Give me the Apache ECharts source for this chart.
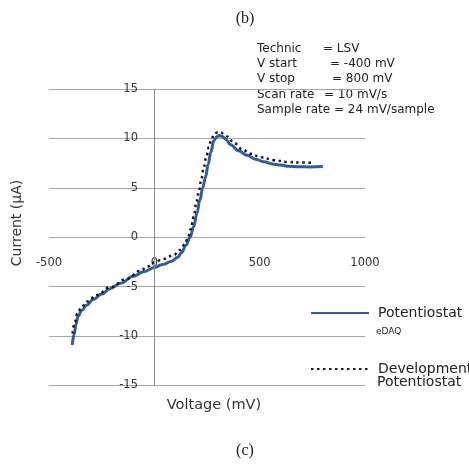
<!DOCTYPE html>
<html>
<head>
<meta charset="utf-8">
<script src="https://cdn.jsdelivr.net/npm/echarts@6/dist/echarts.min.js"></script>
<style>html,body{margin:0;padding:0;background:#fff}#c{width:469px;height:464px}</style>
</head>
<body>
<div id="c"></div>
<script>
// Potentiostat eDAQ (solid blue)
const edaqV = [-390,-380,-372,-362,-345,-320,-290,-250,-210,-160,-100,-50,0,40,80,110,130,150,170,187,202,216,230,243,256,268,283,296,308,322,340,362,400,441,480,521,560,600,640,680,740,800];
const edaqI = [-10.9,-9.8,-8.8,-8.0,-7.4,-6.85,-6.3,-5.75,-5.2,-4.65,-3.95,-3.5,-3.05,-2.75,-2.45,-2.05,-1.55,-0.8,0,1.1,2.4,3.75,5.0,6.1,7.4,8.6,9.8,10.15,10.3,10.2,9.9,9.35,8.75,8.3,7.9,7.63,7.42,7.3,7.18,7.13,7.12,7.15];
// Development Potentiostat (dotted black)
const devV = [-388,-378,-365,-345,-320,-273,-210,-130,-68,-30,0,40,91,122,145,160,172,187,200,211,223,235,247,259,271,283,298,314,330,345,378,417,457,505,568,632,695,755];
const devI = [-9.75,-8.6,-7.7,-7.05,-6.5,-5.85,-5.05,-4.2,-3.4,-2.95,-2.55,-2.2,-1.82,-1.3,-0.7,0.0,0.8,2.07,3.6,4.6,5.9,7.1,8.2,9.15,9.9,10.4,10.6,10.62,10.45,10.2,9.55,8.9,8.45,8.1,7.8,7.62,7.56,7.53];
const xTicks = [-500, 0, 500, 1000];
const yTicks = [-15, -10, -5, 0, 5, 10, 15];
const infoLabels = ['Technic', 'V start', 'V stop', 'Scan rate'];
const infoValues = ['= LSV', '= -400 mV', '= 800 mV', '= 10 mV/s'];
const infoLast = 'Sample rate = 24 mV/sample';

const FONT = 'DejaVu Sans';
const chart = echarts.init(document.getElementById('c'), null, {renderer: 'canvas'});
const zip = (a, b) => a.map((v, i) => [v, b[i]]);

const valX = [323, 330, 332, 324];
const rowY = [50, 65, 80, 96];
const graphics = [];
infoLabels.forEach((t, i) => {
  graphics.push({type: 'text', left: 257, top: rowY[i] - 7, style: {text: t, font: '12px "DejaVu Sans"', fill: '#222'}});
  graphics.push({type: 'text', left: valX[i], top: rowY[i] - 7, style: {text: infoValues[i], font: '12px "DejaVu Sans"', fill: '#222'}});
});
graphics.push({type: 'text', left: 257, top: 111 - 7, style: {text: infoLast, font: '12px "DejaVu Sans"', fill: '#222'}});
graphics.push({type: 'text', left: 376, top: 327, style: {text: 'eDAQ', font: '9px "DejaVu Sans"', fill: '#222'}});
graphics.push({type: 'text', left: 377, top: 375, style: {text: 'Potentiostat', font: '14px "DejaVu Sans"', fill: '#222'}});
graphics.push({type: 'text', x: 17, y: 223, rotation: Math.PI / 2, style: {text: 'Current (\u00b5A)', font: '14px "DejaVu Sans"', fill: '#333', align: 'center', verticalAlign: 'middle'}});
graphics.push({type: 'text', x: 214, y: 405, style: {text: 'Voltage (mV)', font: '14.5px "DejaVu Sans"', fill: '#333', align: 'center', verticalAlign: 'middle'}});

const option = {
  animation: false,
  backgroundColor: '#fff',
  title: [
    {text: '(b)', left: 245, top: 11, textAlign: 'center', padding: 0, textStyle: {fontFamily: 'Liberation Serif', fontSize: 16, fontWeight: 'normal', color: '#222'}},
    {text: '(c)', left: 245, top: 443, textAlign: 'center', padding: 0, textStyle: {fontFamily: 'Liberation Serif', fontSize: 16, fontWeight: 'normal', color: '#222'}}
  ],
  grid: {left: 49, right: 104, top: 89, bottom: 78.5, containLabel: false},
  xAxis: {
    type: 'value', min: xTicks[0], max: xTicks[xTicks.length - 1], interval: 500,
    axisLine: {show: false, onZero: false},
    axisTick: {show: false},
    splitLine: {show: false},
    axisLabel: {margin: -128, fontFamily: FONT, fontSize: 11.5, color: '#333', showMinLabel: true, showMaxLabel: true,
      formatter: v => String(v)}
  },
  yAxis: {
    type: 'value', min: yTicks[0], max: yTicks[yTicks.length - 1], interval: 5,
    axisLine: {show: false, onZero: false},
    axisTick: {show: false},
    splitLine: {show: true, lineStyle: {color: '#a6a6a6', width: 1}},
    axisLabel: {margin: -89, fontFamily: FONT, fontSize: 11.5, color: '#333', formatter: v => String(v)}
  },
  legend: [
    {data: ['Potentiostat'], left: 310, top: 306, padding: 0, itemWidth: 58, itemHeight: 14,
     itemStyle: {opacity: 0},
     textStyle: {fontFamily: FONT, fontSize: 14, color: '#222', padding: [0, 0, 0, 4]}},
    {data: ['Development'], left: 310, top: 362, padding: 0, itemWidth: 58, itemHeight: 14,
     itemStyle: {opacity: 0},
     textStyle: {fontFamily: FONT, fontSize: 14, color: '#222', padding: [0, 0, 0, 4]}}
  ],
  series: [
    {name: 'Potentiostat', type: 'line', data: zip(edaqV, edaqI), symbol: 'none', smooth: 0.4, smoothMonotone: 'x',
     lineStyle: {color: '#2f5c9e', width: 3}, itemStyle: {color: '#2f5c9e'}, z: 3,
     markLine: {silent: true, symbol: 'none', label: {show: false}, lineStyle: {color: '#8c8c8c', width: 1, type: 'solid'},
       data: [{xAxis: 0}]}},
    {name: 'Development', type: 'line', data: zip(devV, devI), symbol: 'none', smooth: 0.4, smoothMonotone: 'x',
     lineStyle: {color: '#1a1a1a', width: 2.5, type: [2.5, 3.5]}, itemStyle: {color: '#1a1a1a'}, z: 4}
  ],
  graphic: graphics
};
chart.setOption(option);
</script>
</body>
</html>
